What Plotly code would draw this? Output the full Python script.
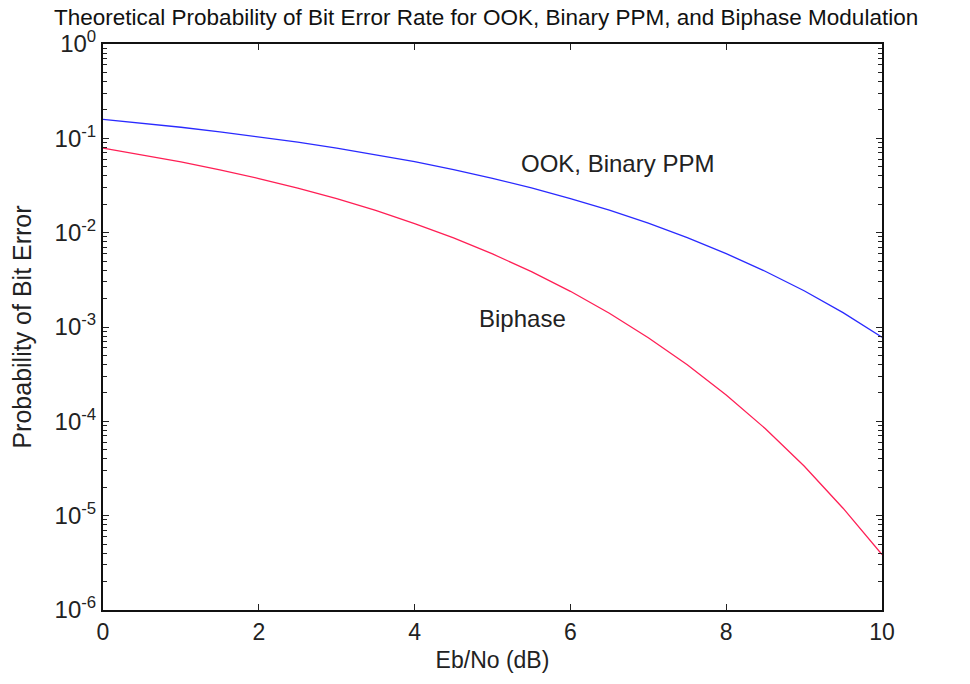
import plotly.graph_objects as go

# Eb/No (dB)
ebno_db = [0, 0.5, 1, 1.5, 2, 2.5, 3, 3.5, 4, 4.5, 5, 5.5, 6, 6.5, 7, 7.5, 8, 8.5, 9, 9.5, 10]

# Probability of bit error
ook_ppm = [0.159, 0.145, 0.131, 0.117, 0.104, 0.0912, 0.0789, 0.0673, 0.0565, 0.0466,
           0.0377, 0.0298, 0.0230, 0.0173, 0.0126, 0.00887, 0.0060, 0.0039, 0.00242,
           0.00142, 0.00078]
biphase = [0.0786, 0.0671, 0.0563, 0.0464, 0.0375, 0.0297, 0.0229, 0.0172, 0.0125, 0.0088,
           0.00595, 0.00386, 0.00239, 0.0014, 0.00077, 0.000398, 0.00019, 8.4e-5, 3.36e-5,
           1.2e-5, 3.87e-6]

x_ticks = [0, 2, 4, 6, 8, 10]
y_tick_vals = [1, 1e-1, 1e-2, 1e-3, 1e-4, 1e-5, 1e-6]
y_tick_text = ["10<sup>0</sup>", "10<sup>-1</sup>", "10<sup>-2</sup>", "10<sup>-3</sup>",
               "10<sup>-4</sup>", "10<sup>-5</sup>", "10<sup>-6</sup>"]
decade_exponents = [-6, -5, -4, -3, -2, -1]
minor_digits = [2, 3, 4, 5, 6, 7, 8, 9]
y_minor_vals = [d * 10 ** e for e in decade_exponents for d in minor_digits]

font_main = "Liberation Sans, Arial, sans-serif"

fig = go.Figure()
fig.add_trace(go.Scatter(x=ebno_db, y=ook_ppm, mode="lines",
                         line=dict(color="#2a2aff", width=1.3), showlegend=False))
fig.add_trace(go.Scatter(x=ebno_db, y=biphase, mode="lines",
                         line=dict(color="#ff1f55", width=1.3), showlegend=False))

fig.add_annotation(x=6.6, y=-1.262, text="OOK, Binary PPM", showarrow=False,
                   font=dict(family=font_main, size=24, color="#222"))
fig.add_annotation(x=5.38, y=-2.906, text="Biphase", showarrow=False,
                   font=dict(family=font_main, size=24, color="#222"))

# The page adds an 8px body margin, so the figure is sized/margined to compensate
fig.update_layout(
    width=962, height=676,
    paper_bgcolor="white", plot_bgcolor="white",
    margin=dict(l=95, r=88, t=36, b=74),
    title=dict(text="Theoretical Probability of Bit Error Rate for OOK, Binary PPM, and Biphase Modulation",
               x=0.497, xanchor="center", y=0.986, yanchor="middle", yref="container",
               font=dict(family=font_main, size=22.5, color="#111")),
)

fig.update_xaxes(
    range=[0, 10], tickvals=x_ticks, ticks="inside", ticklen=6, tickwidth=1,
    tickcolor="#222", showline=True, linecolor="#111", linewidth=2, mirror="ticks",
    showgrid=False, zeroline=False,
    tickfont=dict(family=font_main, size=23, color="#222"),
    title=dict(text="Eb/No (dB)", font=dict(family=font_main, size=23, color="#222"), standoff=8),
)
fig.update_yaxes(
    type="log", range=[-6, 0], tickvals=y_tick_vals, ticktext=y_tick_text,
    ticks="inside", ticklen=6, tickwidth=1, tickcolor="#222",
    minor=dict(ticks="inside", ticklen=4, tickcolor="#222", tickvals=y_minor_vals, showgrid=False),
    showline=True, linecolor="#111", linewidth=2, mirror="ticks",
    showgrid=False, zeroline=False,
    tickfont=dict(family=font_main, size=24, color="#222"),
    title=dict(text="Probability of Bit Error", font=dict(family=font_main, size=25, color="#222"), standoff=16),
)

fig.write_html("out.html")
